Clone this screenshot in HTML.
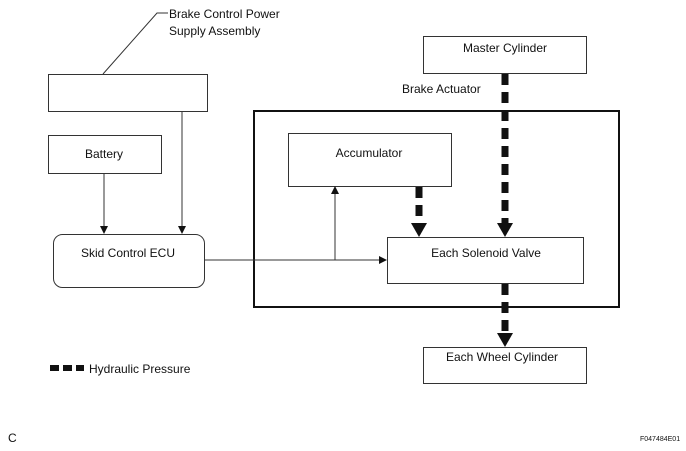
<!DOCTYPE html>
<html><head><style>
body{margin:0;background:#fff}
svg{display:block}
text{font-family:"Liberation Sans",Arial,sans-serif;font-size:12px;fill:#111}
</style></head><body>
<svg width="686" height="451" viewBox="0 0 686 451">
<defs>
<marker id="a" markerWidth="8" markerHeight="8" refX="7" refY="4" orient="auto" markerUnits="userSpaceOnUse"><path d="M0,0 L8,4 L0,8 z" fill="#111"/></marker>
</defs>
<g fill="none" stroke="#333" stroke-width="1">
<rect x="48.5" y="74.5" width="159" height="37"/>
<rect x="48.5" y="135.5" width="113" height="38"/>
<rect x="53.5" y="234.5" width="151" height="53" rx="9"/>
<rect x="423.5" y="36.5" width="163" height="37"/>
<rect x="288.5" y="133.5" width="163" height="53"/>
<rect x="387.5" y="237.5" width="196" height="46"/>
<rect x="423.5" y="347.5" width="163" height="36"/>
<rect x="254" y="111" width="365" height="196" stroke="#111" stroke-width="2"/>
<polyline points="103,74 157,13 168,13"/>
<line x1="104" y1="174" x2="104" y2="233" marker-end="url(#a)"/>
<line x1="182" y1="112" x2="182" y2="233" marker-end="url(#a)"/>
<line x1="205" y1="260" x2="386" y2="260" marker-end="url(#a)"/>
<line x1="335" y1="260" x2="335" y2="187" marker-end="url(#a)"/>
</g>
<g stroke="#111" stroke-width="7" stroke-dasharray="11,7">
<line x1="505" y1="74" x2="505" y2="224"/>
<line x1="419" y1="187" x2="419" y2="224"/>
<line x1="505" y1="284" x2="505" y2="334"/>
</g>
<g fill="#111">
<path d="M497,223 L513,223 L505,237 z"/>
<path d="M411,223 L427,223 L419,237 z"/>
<path d="M497,333 L513,333 L505,347 z"/>
<rect x="50" y="365" width="9" height="6"/>
<rect x="63" y="365" width="9" height="6"/>
<rect x="76" y="365" width="8" height="6"/>
</g>
<text x="169" y="18">Brake Control Power</text>
<text x="169" y="35">Supply Assembly</text>
<text x="104" y="158" text-anchor="middle">Battery</text>
<text x="128" y="257" text-anchor="middle">Skid Control ECU</text>
<text x="505" y="52" text-anchor="middle">Master Cylinder</text>
<text x="402" y="93">Brake Actuator</text>
<text x="369" y="157" text-anchor="middle">Accumulator</text>
<text x="486" y="257" text-anchor="middle">Each Solenoid Valve</text>
<text x="502" y="361" text-anchor="middle">Each Wheel Cylinder</text>
<text x="89" y="373">Hydraulic Pressure</text>
<text x="8" y="442">C</text>
<text x="640" y="441" style="font-size:7px">F047484E01</text>
</svg>
</body></html>
